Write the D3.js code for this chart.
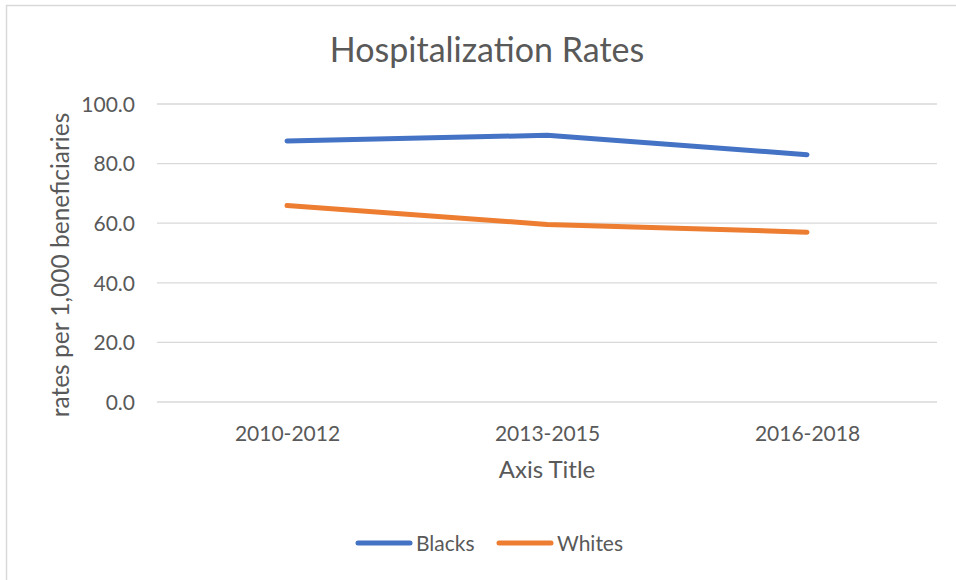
<!DOCTYPE html>
<html><head><meta charset="utf-8">
<script src="https://cdn.jsdelivr.net/npm/d3@7"></script>
<style>body{margin:0;background:#fff;} text{font-family:Lato,"Liberation Sans",sans-serif;fill:#595959;}</style>
</head><body>
<svg id="c" width="956" height="580"></svg>
<script>
const categories = ["2010-2012","2013-2015","2016-2018"];
const blacks = [87.6, 89.5, 83.0];
const whites = [65.9, 59.6, 57.0];
const yTicks = [0,20,40,60,80,100];
const seriesNames = ["Blacks","Whites"];
const colors = ["#4472C4","#ED7D31"];

const svg = d3.select("#c");
svg.append("rect").attr("x",6.5).attr("y",5.5).attr("width",1000).attr("height",1000)
  .attr("fill","#fff").attr("stroke","#d9d9d9").attr("stroke-width",1.5);

const x = d3.scalePoint().domain(categories).range([287,807]);
const y = d3.scaleLinear().domain([0,100]).range([402,104]);
const left = 157, right = 937;

const grid = svg.append("g");
grid.selectAll("line").data(yTicks).join("line")
  .attr("x1",left).attr("x2",right).attr("y1",d=>y(d)).attr("y2",d=>y(d))
  .attr("stroke","#d9d9d9").attr("stroke-width",1.3);

const yAxis = d3.axisLeft(y).tickValues(yTicks).tickFormat(d3.format(".1f")).tickSize(0).tickPadding(0);
const ya = svg.append("g").attr("transform","translate(135,0)").call(yAxis);
ya.select(".domain").remove();
ya.selectAll("text").style("font-size","21px").attr("fill","#595959").attr("dy","0.35em");

const xAxis = d3.axisBottom(x).tickSize(0).tickPadding(0);
const xa = svg.append("g").attr("transform","translate(0,441)").call(xAxis);
xa.select(".domain").remove();
xa.selectAll("text").style("font-size","21px").attr("fill","#595959").attr("y",0).attr("dy","0");

const line = d3.line().x((d,i)=>x(categories[i])).y(d=>y(d));
[blacks,whites].forEach((s,i)=>{
  svg.append("path").attr("d",line(s)).attr("fill","none").attr("stroke",colors[i])
    .attr("stroke-width",5).attr("stroke-linecap","round").attr("stroke-linejoin","round");
});

svg.append("text").attr("x",487).attr("y",62).attr("text-anchor","middle").style("font-size","34px").text("Hospitalization Rates");
svg.append("text").attr("x",547).attr("y",478).attr("text-anchor","middle").style("font-size","24px").text("Axis Title");
svg.append("text").attr("transform","translate(69,265) rotate(-90)").attr("text-anchor","middle").style("font-size","24.5px").text("rates per 1,000 beneficiaries");

const legX = [358, 499];
seriesNames.forEach((n,i)=>{
  svg.append("line").attr("x1",legX[i]).attr("x2",legX[i]+52).attr("y1",543).attr("y2",543)
    .attr("stroke",colors[i]).attr("stroke-width",5).attr("stroke-linecap","round");
  svg.append("text").attr("x",legX[i]+58).attr("y",551).style("font-size","21px").text(n);
});
</script>
</body></html>
